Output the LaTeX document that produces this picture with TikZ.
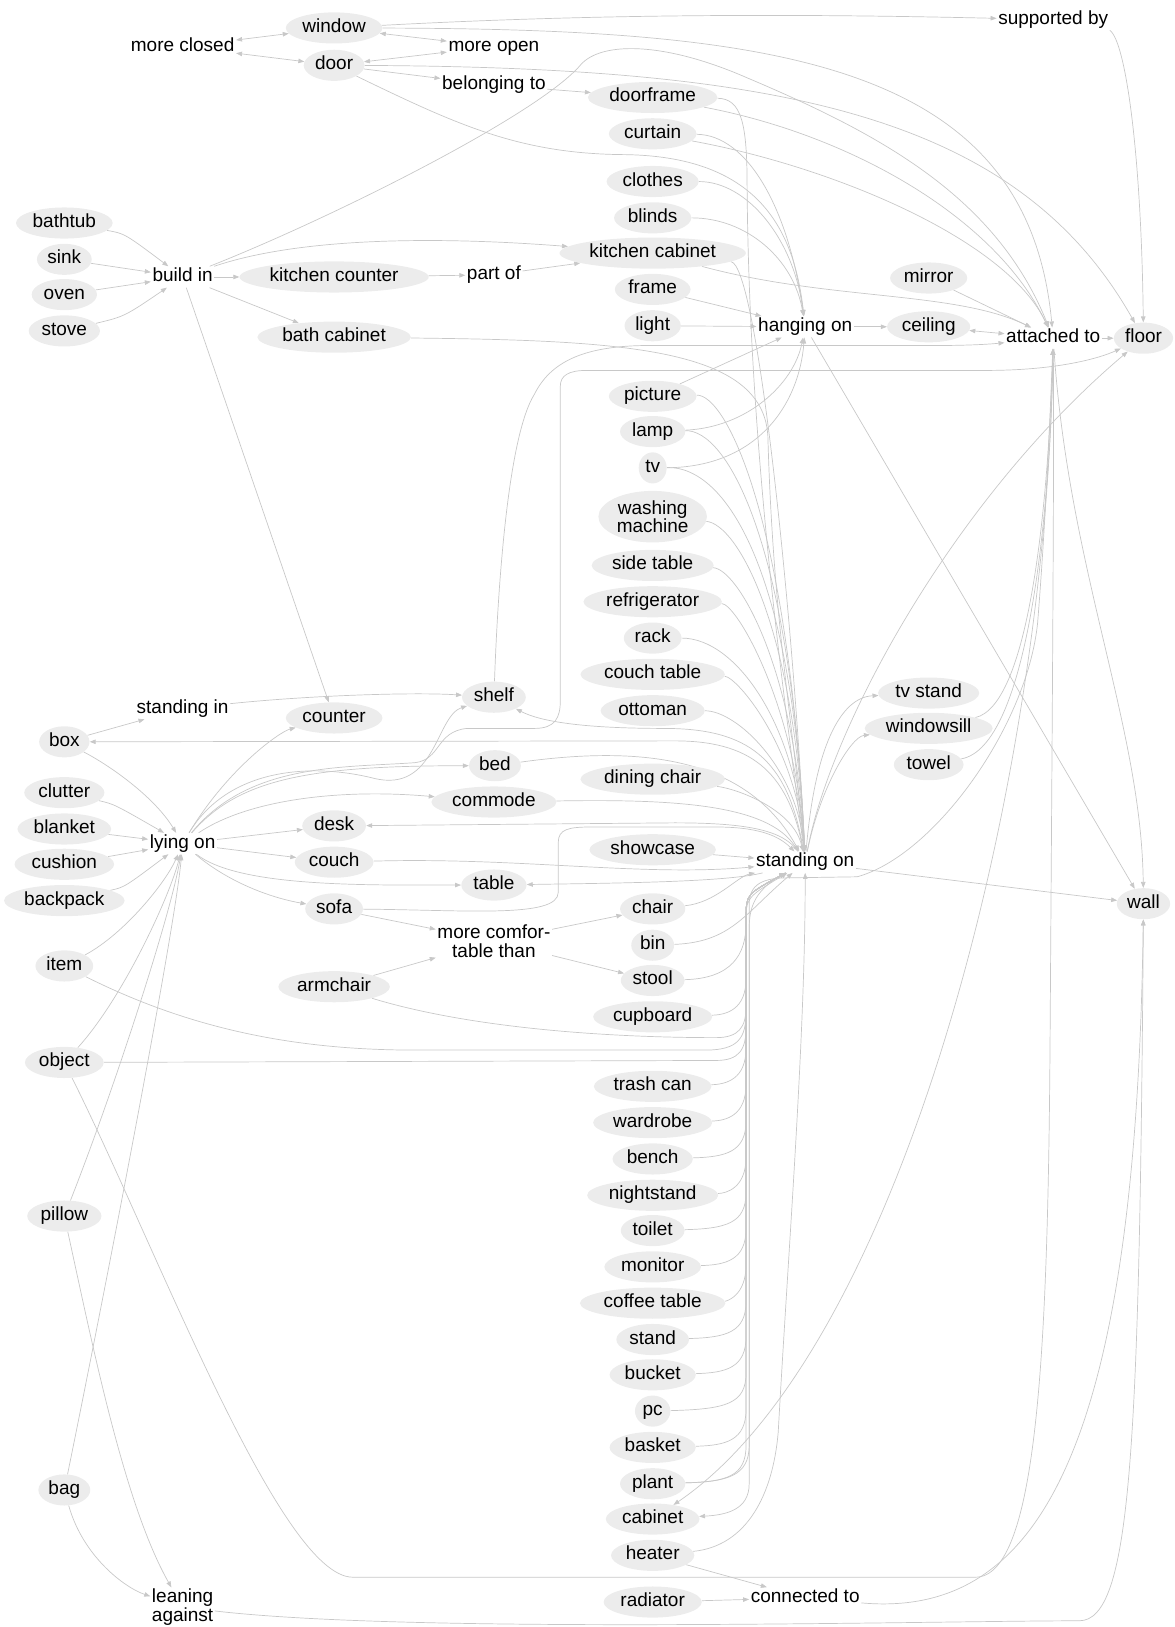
\documentclass[tikz,border=0pt]{standalone}
\usepackage{fontspec}
\setmainfont{Liberation Sans}
\usetikzlibrary{shapes.geometric,arrows.meta}
\definecolor{edgec}{RGB}{200,200,200}
\definecolor{fillc}{RGB}{236,236,236}
\newcommand\lbl{\fontsize{19}{18.5}\selectfont}
\pgfdeclarelayer{bg}
\pgfsetlayers{bg,main}
\newcommand\lowedge[2]{\draw[e] (#1) .. controls (700,#2) and (719,#2-5) .. (719,#2-35) -- (719,885) .. controls (719,862) .. (standing);}
\begin{document}
\begin{tikzpicture}[x=1.038pt,y=-1.038pt,
  lab/.style={font=\lbl, text=black, yshift=-2pt},
  ent/.style={lab, ellipse, fill=fillc, inner xsep=2.5pt, inner ysep=2pt, text height=13.5pt, text depth=4.5pt},
  enttwo/.style={lab, ellipse, fill=fillc, inner xsep=2.5pt, inner ysep=2pt, align=center},
  rel/.style={lab, inner sep=1.5pt, text height=13.5pt, text depth=4.5pt},
  reltwo/.style={lab, inner sep=1.5pt},
  e/.style={draw=edgec, line width=0.7pt, -{Triangle[length=6pt,width=4.5pt]}},
  eb/.style={draw=edgec, line width=0.7pt, {Triangle[length=6pt,width=4.5pt]}-{Triangle[length=6pt,width=4.5pt]}}]
\useasboundingbox (0,0) rectangle (1132,1568);
% nodes
\node[ent] (window) at (322,25) {window};
\node[ent] (door) at (322,61) {door};
\node[rel] (moreclosed) at (176,43) {more closed};
\node[rel] (moreopen) at (476,43) {more open};
\node[rel] (belonging) at (476,80) {belonging to};
\node[rel] (supported) at (1015,17) {supported by};
\node[ent] (doorframe) at (629,92) {doorframe};
\node[ent] (curtain) at (629,127) {curtain};
\node[ent] (clothes) at (629,173) {clothes};
\node[ent] (blinds) at (629,208) {blinds};
\node[ent] (kitchencab) at (629,242) {kitchen cabinet};
\node[ent] (frame) at (629,277) {frame};
\node[ent] (light) at (629,312) {light};
\node[rel] (hanging) at (776,313) {hanging on};
\node[ent] (ceiling) at (895,313) {ceiling};
\node[ent] (mirror) at (895,266) {mirror};
\node[rel] (attached) at (1015,324) {attached to};
\node[ent] (floor) at (1102,324) {floor};
\node[ent] (bathtub) at (62,213) {bathtub};
\node[ent] (sink) at (62,248) {sink};
\node[ent] (oven) at (62,282) {oven};
\node[ent] (stove) at (62,317) {stove};
\node[rel] (buildin) at (176,265) {build in};
\node[ent] (kcounter) at (322,265) {kitchen counter};
\node[rel] (partof) at (476,263) {part of};
\node[ent] (bathcab) at (322,323) {bath cabinet};
\node[ent] (picture) at (629,380) {picture};
\node[ent] (lamp) at (629,414) {lamp};
\node[ent] (tv) at (629,449) {tv};
\node[enttwo] (washing) at (629,496) {washing\\machine};
\node[ent] (sidetable) at (629,543) {side table};
\node[ent] (fridge) at (629,578) {refrigerator};
\node[ent] (rack) at (629,613) {rack};
\node[ent] (couchtable) at (629,648) {couch table};
\node[ent] (ottoman) at (629,683) {ottoman};
\node[ent] (tvstand) at (895,666) {tv stand};
\node[ent] (windowsill) at (895,700) {windowsill};
\node[ent] (towel) at (895,735) {towel};
\node[rel] (standingin) at (176,681) {standing in};
\node[ent] (shelf) at (476,670) {shelf};
\node[ent] (counter) at (322,690) {counter};
\node[ent] (box) at (62,713) {box};
\node[ent] (bed) at (477,736) {bed};
\node[ent] (diningchair) at (629,749) {dining chair};
\node[ent] (commode) at (476,771) {commode};
\node[ent] (clutter) at (62,762) {clutter};
\node[ent] (blanket) at (62,797) {blanket};
\node[rel] (lyingon) at (176,811) {lying on};
\node[ent] (desk) at (322,794) {desk};
\node[ent] (cushion) at (62,831) {cushion};
\node[ent] (showcase) at (629,817) {showcase};
\node[rel] (standing) at (776,829) {standing on};
\node[ent] (couch) at (322,829) {couch};
\node[ent] (table) at (476,851) {table};
\node[ent] (backpack) at (62,866) {backpack};
\node[ent] (sofa) at (322,874) {sofa};
\node[ent] (chair) at (629,874) {chair};
\node[ent] (wall) at (1102,869) {wall};
\node[reltwo, align=center] (mct) at (476,905) {more comfor-\\table than};
\node[ent] (bin) at (629,909) {bin};
\node[ent] (item) at (62,929) {item};
\node[ent] (stool) at (629,943) {stool};
\node[ent] (armchair) at (322,949) {armchair};
\node[ent] (cupboard) at (629,978) {cupboard};
\node[ent] (object) at (62,1022) {object};
\node[ent] (trashcan) at (629,1045) {trash can};
\node[ent] (wardrobe) at (629,1080) {wardrobe};
\node[ent] (bench) at (629,1115) {bench};
\node[ent] (nightstand) at (629,1150) {nightstand};
\node[ent] (toilet) at (629,1184) {toilet};
\node[ent] (monitor) at (629,1219) {monitor};
\node[ent] (coffeetable) at (629,1254) {coffee table};
\node[ent] (stand) at (629,1289) {stand};
\node[ent] (bucket) at (629,1323) {bucket};
\node[ent] (pc) at (629,1358) {pc};
\node[ent] (basket) at (629,1393) {basket};
\node[ent] (plant) at (629,1428) {plant};
\node[ent] (cabinet) at (629,1462) {cabinet};
\node[ent] (heater) at (629,1497) {heater};
\node[ent] (radiator) at (629,1542) {radiator};
\node[ent] (pillow) at (62,1170) {pillow};
\node[ent] (bag) at (62,1434) {bag};
\node[reltwo, align=left] (leaning) at (176,1547) {leaning\\against};
\node[rel] (connected) at (776,1538) {connected to};

\begin{pgfonlayer}{bg}
% top cluster
\draw[eb] (window) -- (moreclosed);
\draw[eb] (door) -- (moreclosed);
\draw[eb] (window) -- (moreopen);
\draw[eb] (door) -- (moreopen);
\draw[e] (door) -- (belonging);
\draw[e] (belonging) -- (doorframe);
\draw[e] (window) .. controls (600,12) and (800,14) .. (supported);
\draw[e] (supported.south east) .. controls (1085,40) and (1100,150) .. (floor);
\draw[e] (window) .. controls (750,28) and (990,60) .. (attached);
\draw[e] (door) .. controls (750,65) and (980,110) .. (floor);
\draw[e] (door) .. controls (440,120) and (500,148) .. (600,149) .. controls (730,150) and (765,220) .. (hanging);
% build in
\draw[e] (bathtub) .. controls (120,225) .. (buildin);
\draw[e] (sink) -- (buildin);
\draw[e] (oven) -- (buildin);
\draw[e] (stove) .. controls (120,305) .. (buildin);
\draw[e] (buildin) -- (kcounter);
\draw[e] (buildin) -- (bathcab);
\draw[e] (buildin) .. controls (300,225) and (450,230) .. (kitchencab);
\draw[e] (buildin) -- (counter);
\draw[e] (buildin) .. controls (320,210) and (520,110) .. (560,62) .. controls (580,40) and (640,40) .. (720,75) .. controls (850,130) and (960,190) .. (attached);
\draw[e] (kcounter) -- (partof);
\draw[e] (partof) -- (kitchencab);
% hanging on
\draw[e] (curtain) .. controls (720,130) and (760,200) .. (hanging);
\draw[e] (clothes) .. controls (720,175) and (765,230) .. (hanging);
\draw[e] (blinds) .. controls (720,210) and (765,250) .. (hanging);
\draw[e] (frame) -- (hanging);
\draw[e] (light) -- (hanging);
\draw[e] (picture) -- (hanging);
\draw[e] (lamp) .. controls (720,412) and (765,370) .. (hanging);
\draw[e] (tv) .. controls (730,450) and (770,390) .. (hanging);
\draw[e] (hanging) -- (ceiling);
\draw[eb] (ceiling) -- (attached);
\draw[e] (mirror) -- (attached);
\draw[e] (attached) -- (floor);
\draw[e] (hanging) -- (wall);
\draw[e] (attached) .. controls (1030,550) and (1100,700) .. (wall);
\draw[e] (doorframe) .. controls (820,130) and (960,210) .. (attached);
\draw[e] (curtain) .. controls (800,160) and (970,230) .. (attached);
\draw[e] (kitchencab) .. controls (800,290) and (920,280) .. (attached);
\draw[e] (shelf) .. controls (480,560) and (490,420) .. (515,380) .. controls (530,350) and (560,334) .. (620,333) -- (900,333) .. controls (930,333) and (950,332) .. (attached);
% standing on from above
\draw[e] (doorframe) .. controls (715,95) and (720,120) .. (720,180) .. controls (722,450) and (760,700) .. (standing);
\draw[e] (kitchencab) .. controls (730,255) and (765,600) .. (standing);
\draw[e] (bathcab) .. controls (600,328) and (735,335) .. (740,420) .. controls (745,600) and (765,700) .. (standing);
\draw[e] (picture) .. controls (700,380) and (760,500) .. (standing);
\draw[e] (lamp) .. controls (700,414) and (762,520) .. (standing);
\draw[e] (tv) .. controls (700,449) and (764,550) .. (standing);
\draw[e] (washing) .. controls (710,505) and (765,600) .. (standing);
\draw[e] (sidetable) .. controls (710,548) and (766,640) .. (standing);
\draw[e] (fridge) .. controls (710,582) and (767,680) .. (standing);
\draw[e] (rack) .. controls (710,615) and (768,700) .. (standing);
\draw[e] (couchtable) .. controls (710,652) and (768,720) .. (standing);
\draw[e] (ottoman) .. controls (710,685) and (768,740) .. (standing);
\draw[e] (diningchair) .. controls (710,760) and (765,780) .. (standing);
\draw[e] (bed) .. controls (620,718) and (720,730) .. (standing);
\draw[e] (commode) .. controls (650,770) and (740,775) .. (standing);
\draw[e] (showcase) -- (standing);
\draw[e] (couch) .. controls (500,826) and (620,845) .. (standing);
\draw[e] (sofa) .. controls (450,877) and (538,885) .. (538,860) -- (538,812) .. controls (538,799) and (548,797) .. (570,797) -- (690,797) .. controls (730,797) and (750,805) .. (standing);
% standing on outgoing
\draw[e] (standing) .. controls (755,800) and (720,793) .. (650,793) -- (desk);
\draw[e] (standing) .. controls (700,850) and (600,851) .. (table);
\draw[e] (standing) .. controls (760,740) and (720,714) .. (650,714) -- (box);
\draw[e] (standing) .. controls (760,730) and (720,702) .. (640,702) .. controls (560,702) and (520,695) .. (shelf);
\draw[e] (standing) .. controls (785,720) and (810,672) .. (tvstand);
\draw[e] (standing) .. controls (790,760) and (820,710) .. (windowsill);
\draw[e] (standing) .. controls (800,700) and (920,480) .. (floor);
\draw[e] (standing) -- (wall);
% lower bundle
\draw[e] (chair) .. controls (690,870) and (710,845) .. (standing);
\draw[e] (bin) .. controls (705,908) and (718,880) .. (standing);
\draw[e] (stool) .. controls (705,943) and (719,920) .. (719,890) .. controls (719,865) .. (standing);
\lowedge{cupboard}{978}
\lowedge{trashcan}{1045}
\lowedge{wardrobe}{1080}
\lowedge{bench}{1115}
\lowedge{nightstand}{1150}
\lowedge{toilet}{1184}
\lowedge{monitor}{1219}
\lowedge{coffeetable}{1254}
\lowedge{stand}{1289}
\lowedge{bucket}{1323}
\lowedge{pc}{1358}
\lowedge{basket}{1393}
\lowedge{plant}{1428}
\draw[e] (plant) .. controls (700,1428) and (722,1423) .. (722,1393) -- (722,872) .. controls (722,852) and (735,846) .. (760,846) -- (826,845) .. controls (900,825) and (990,700) .. (1000,600) .. controls (1008,500) and (1012,400) .. (attached);
\draw[e] (item) .. controls (180,990) and (280,1012) .. (400,1012) -- (680,1012) .. controls (712,1012) and (719,1000) .. (719,975) -- (719,885) .. controls (719,862) .. (standing);
\draw[e] (object) -- (690,1022) .. controls (712,1022) and (719,1012) .. (719,990) -- (719,885) .. controls (719,862) .. (standing);
\draw[e] (armchair) .. controls (450,990) and (580,1000) .. (690,1000) .. controls (712,1000) and (719,990) .. (719,970) -- (719,885) .. controls (719,862) .. (standing);
\draw[e] (heater) .. controls (720,1490) and (745,1440) .. (750,1380) .. controls (760,1200) and (776,1000) .. (standing);
\draw[e] (standing) .. controls (722,860) and (722,880) .. (722,900) -- (722,1430) .. controls (722,1455) and (700,1460) .. (cabinet);
\draw[e] (attached) .. controls (1010,750) and (870,1300) .. (cabinet);
\draw[e] (heater) -- (connected);
\draw[e] (radiator) -- (connected);
\draw[e] (connected) .. controls (1000,1560) and (1095,1400) .. (wall);
\draw[e] (leaning) .. controls (400,1575) and (900,1562) .. (1040,1562) .. controls (1090,1562) and (1098,1400) .. (wall);
\draw[e] (object) .. controls (150,1200) and (270,1520) .. (340,1520) -- (940,1520) .. controls (1000,1520) and (1010,1300) .. (1012,1000) .. controls (1014,700) and (1016,450) .. (attached);
\draw[e] (windowsill) .. controls (990,680) and (1010,500) .. (attached);
\draw[e] (towel) .. controls (990,720) and (1012,500) .. (attached);
% lying on
\draw[e] (box) .. controls (110,740) and (150,770) .. (lyingon);
\draw[e] (clutter) .. controls (110,775) .. (lyingon);
\draw[e] (blanket) -- (lyingon);
\draw[e] (cushion) -- (lyingon);
\draw[e] (backpack) .. controls (120,855) .. (lyingon);
\draw[e] (item) .. controls (120,900) and (160,850) .. (lyingon);
\draw[e] (object) .. controls (120,960) and (165,860) .. (lyingon);
\draw[e] (pillow) .. controls (110,1050) and (165,880) .. (lyingon);
\draw[e] (bag) .. controls (100,1250) and (168,900) .. (lyingon);
\draw[e] (lyingon) .. controls (220,740) and (270,705) .. (counter);
\draw[e] (lyingon) .. controls (220,740) and (300,735) .. (360,750) .. controls (420,765) and (420,690) .. (shelf);
\draw[e] (lyingon) .. controls (240,735) and (330,740) .. (400,735) .. controls (425,732) and (420,705) .. (450,702) -- (515,702) .. controls (535,702) and (540,692) .. (540,675) -- (540,372) .. controls (540,362) and (548,357) .. (565,357) -- (950,357) .. controls (1020,357) and (1060,345) .. (floor);
\draw[e] (lyingon) .. controls (230,750) and (300,738) .. (bed);
\draw[e] (lyingon) .. controls (240,770) and (330,760) .. (commode);
\draw[e] (lyingon) -- (desk);
\draw[e] (lyingon) -- (couch);
\draw[e] (lyingon) .. controls (230,855) and (350,853) .. (table);
\draw[e] (lyingon) .. controls (220,850) and (260,865) .. (sofa);
\draw[e] (box) -- (standingin);
\draw[e] (standingin) .. controls (300,670) and (400,667) .. (shelf);
% more comfortable than
\draw[e] (sofa) -- (mct);
\draw[e] (armchair) -- (mct);
\draw[e] (mct) -- (chair);
\draw[e] (mct) -- (stool);
% leaning against
\draw[e] (bag) .. controls (80,1500) and (120,1530) .. (leaning);
\draw[e] (pillow) .. controls (90,1300) and (120,1450) .. (leaning);
\end{pgfonlayer}
\end{tikzpicture}
\end{document}
